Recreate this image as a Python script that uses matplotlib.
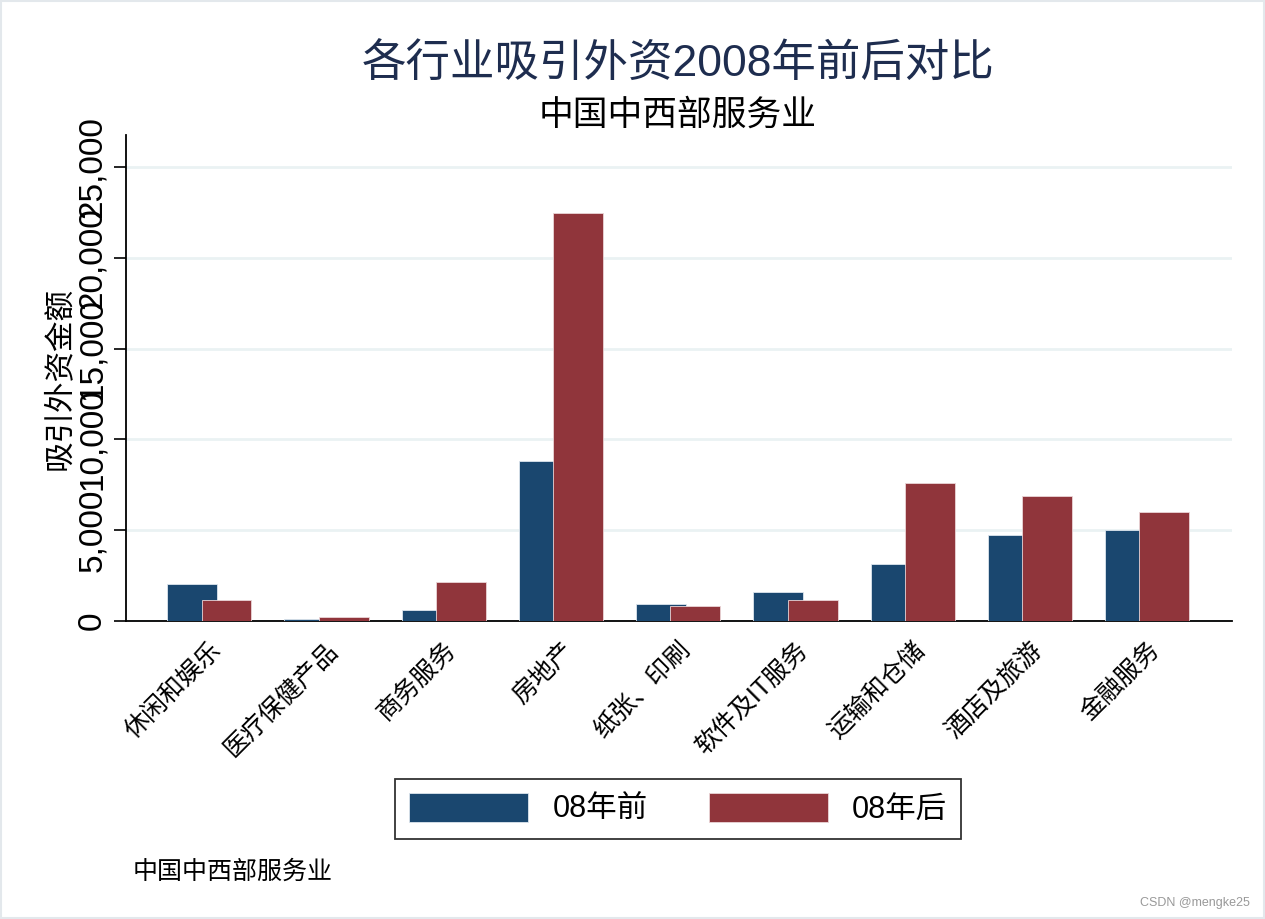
import matplotlib.pyplot as plt
import numpy as np
from matplotlib.patches import Rectangle

plt.rcParams['font.family'] = ['Liberation Sans', 'Noto Sans CJK SC', 'DejaVu Sans']

# data
hangye = ['休闲和娱乐', '医疗保健产品', '商务服务', '房地产', '纸张、印刷',
          '软件及IT服务', '运输和仓储', '酒店及旅游', '金融服务']
qian08 = [2030, 100, 600, 8790, 930, 1600, 3130, 4720, 5000]
hou08 = [1150, 200, 2140, 22470, 820, 1150, 7580, 6870, 5990]
yticks = [0, 5000, 10000, 15000, 20000, 25000]

azul = '#1a476f'
verm = '#90353b'

fig = plt.figure(figsize=(12.65, 9.19), dpi=100)
ax = fig.add_axes([126/1265, 1-621/919, (1232-126)/1265, (621-135)/919])

x = np.arange(len(hangye))
w = 0.426
ax.bar(x - 0.145, qian08, w, color=azul, edgecolor='#dde6ee', lw=0.6, label='08年前', zorder=3)
ax.bar(x + 0.149, hou08, w, color=verm, edgecolor='#ead5d7', lw=0.6, label='08年后', zorder=3)

ax.set_xlim(-0.708, 8.725)
ax.set_ylim(0, 26760)
ax.set_yticks(yticks)
ax.set_yticklabels(['{:,}'.format(v) for v in yticks], rotation=90, va='center', fontsize=24)
ax.grid(axis='y', color='#eaf2f3', lw=2, zorder=0)
ax.set_xticks(x)
ax.set_xticklabels(hangye, rotation=45, ha='right', va='top', rotation_mode='anchor', fontsize=18)
ax.tick_params(axis='x', length=0, pad=12)
ax.tick_params(axis='y', length=9, width=1.2, pad=4)
for s in ['top', 'right']:
    ax.spines[s].set_visible(False)
ax.spines['left'].set_linewidth(1.3)
ax.spines['bottom'].set_linewidth(1.3)
ax.set_ylabel('吸引外资金额', fontsize=22)
ax.yaxis.set_label_coords(-0.046, 0.5)

fig.text(0.536, 1-65/919, '各行业吸引外资2008年前后对比', ha='center', va='center',
         fontsize=32, color='#1e2d4f')
fig.text(0.536, 1-115/919, '中国中西部服务业', ha='center', va='center', fontsize=25)

leg = fig.legend(loc='center', bbox_to_anchor=(678/1265, 1-809/919), ncol=2, fontsize=22,
                 frameon=True, fancybox=False, edgecolor='black', handlelength=3.9,
                 handleheight=1.05, columnspacing=2.0, borderpad=0.45)
leg.get_frame().set_linewidth(1.3)

fig.text(133/1265, 1-872/919, '中国中西部服务业', ha='left', va='center', fontsize=18)
fig.text(1250/1265, 1-903/919, 'CSDN @mengke25', ha='right', va='center', fontsize=9, color='#999999')

fig.patches.append(Rectangle((0.001, 0.001), 0.998, 0.998, transform=fig.transFigure,
                             fill=False, edgecolor='#e3e8ec', lw=1.5))

plt.savefig('out.png', dpi=100)
